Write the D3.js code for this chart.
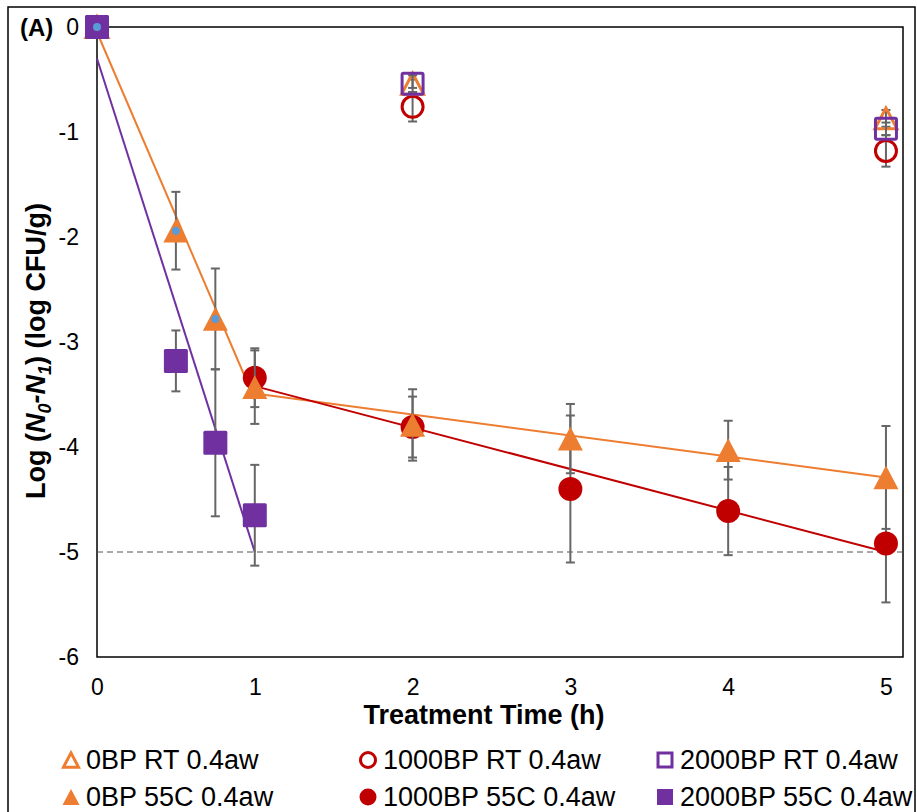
<!DOCTYPE html>
<html>
<head>
<meta charset="utf-8">
<script src="https://cdn.jsdelivr.net/npm/d3@7"></script>
<style>
  html, body { margin: 0; padding: 0; background: #fff; }
  svg { display: block; font-family: "Liberation Sans", Arial, sans-serif; }
</style>
</head>
<body>
<svg id="chart" width="917" height="812"></svg>
<script>
// Survival data: log reduction vs treatment time
const rtTimes = [0, 2, 5];
const bp0RT = [0, -0.54, -0.87];
const bp0RTErr = [0, 0.04, 0.08];
const bp1000RT = [0, -0.76, -1.18];
const bp1000RTErr = [0, 0.14, 0.15];
const bp2000RT = [0, -0.54, -0.97];
const bp2000RTErr = [0, 0.08, 0.06];

const bp0Times = [0, 0.5, 0.75, 1, 2, 3, 4, 5];
const bp0Hot = [0, -1.94, -2.78, -3.43, -3.79, -3.92, -4.03, -4.29];
const bp0HotErr = [0, 0.37, 0.48, 0.35, 0.34, 0.33, 0.28, 0.49];

const bp1000Times = [0, 1, 2, 3, 4, 5];
const bp1000Hot = [0, -3.34, -3.81, -4.40, -4.61, -4.92];
const bp1000HotErr = [0, 0.28, 0.29, 0.70, 0.42, 0.56];

const bp2000Times = [0, 0.5, 0.75, 1];
const bp2000Hot = [0, -3.18, -3.96, -4.65];
const bp2000HotErr = [0, 0.29, 0.70, 0.48];

// highlighted points on the 0BP 55C curve
const dotTimes = [0, 0.5, 0.75];
const dotValues = [0, -1.94, -2.78];

// fitted kinetic segments
const fit0BPFirstX = [0, 1];
const fit0BPFirstY = [-0.05, -3.55];
const fit0BPSecondX = [1, 5];
const fit0BPSecondY = [-3.49, -4.29];
const fit1000BPX = [1, 5];
const fit1000BPY = [-3.42, -5.0];
const fit2000BPX = [0, 1];
const fit2000BPY = [-0.30, -5.0];

const detectionLimit = -5;
const xTicks = [0, 1, 2, 3, 4, 5];
const yTicks = [0, -1, -2, -3, -4, -5, -6];

const legendLabels = [
  "0BP RT 0.4aw", "1000BP RT 0.4aw", "2000BP RT 0.4aw",
  "0BP 55C 0.4aw", "1000BP 55C 0.4aw", "2000BP 55C 0.4aw"
];

const ORANGE = "#ed7d31", RED = "#c00000", PURPLE = "#7030a0", BLUE = "#5b9bd5", GREY = "#666666";

const svg = d3.select("#chart");
const plot = { left: 97, top: 27, right: 903, bottom: 657 };

const x = d3.scaleLinear().domain([0, 5.108]).range([plot.left, plot.right]);
const y = d3.scaleLinear().domain([-6, 0]).range([plot.bottom, plot.top]);

// outer frame
svg.append("rect").attr("x", 8).attr("y", 7).attr("width", 907).attr("height", 820)
  .attr("fill", "none").attr("stroke", "#000").attr("stroke-width", 1.5);

// plot frame
svg.append("rect").attr("x", plot.left).attr("y", plot.top)
  .attr("width", plot.right - plot.left).attr("height", plot.bottom - plot.top)
  .attr("fill", "none").attr("stroke", "#000").attr("stroke-width", 1.5);

// axes
const yAxis = svg.append("g").attr("transform", `translate(${plot.left},0)`)
  .call(d3.axisLeft(y).tickValues(yTicks).tickSize(0).tickPadding(18).tickFormat(d => String(d)));
const xAxis = svg.append("g").attr("transform", `translate(0,${plot.bottom})`)
  .call(d3.axisBottom(x).tickValues(xTicks).tickSize(0).tickPadding(22).tickFormat(d => String(d)));
[yAxis, xAxis].forEach(a => {
  a.select(".domain").remove();
  a.selectAll("text").attr("font-size", 23).attr("fill", "#000")
    .attr("font-family", "'Liberation Sans', Arial, sans-serif");
});

// detection limit
svg.append("line").attr("x1", plot.left).attr("x2", plot.right)
  .attr("y1", y(detectionLimit)).attr("y2", y(detectionLimit))
  .attr("stroke", "#555").attr("stroke-width", 1).attr("stroke-dasharray", "6,4");

// fitted lines
const line = d3.line().x(d => x(d[0])).y(d => y(d[1]));
function fit(xs, ys, color) {
  svg.append("path").datum(xs.map((v, i) => [v, ys[i]]))
    .attr("d", line).attr("fill", "none").attr("stroke", color).attr("stroke-width", 2);
}
fit(fit0BPFirstX, fit0BPFirstY, ORANGE);
fit(fit0BPSecondX, fit0BPSecondY, ORANGE);
fit(fit1000BPX, fit1000BPY, RED);
fit(fit2000BPX, fit2000BPY, PURPLE);

// error bars
function errorBars(ts, vs, es) {
  const g = svg.append("g");
  ts.forEach((t, i) => {
    if (!es[i]) return;
    const cx = x(t), y1 = y(vs[i] + es[i]), y2 = y(vs[i] - es[i]);
    g.append("line").attr("x1", cx).attr("x2", cx).attr("y1", y1).attr("y2", y2)
      .attr("stroke", GREY).attr("stroke-width", 2);
    [y1, y2].forEach(yy => g.append("line").attr("x1", cx - 4.5).attr("x2", cx + 4.5)
      .attr("y1", yy).attr("y2", yy).attr("stroke", GREY).attr("stroke-width", 2));
  });
}

function markers(ts, vs, shape, color, filled, size) {
  const g = svg.append("g");
  ts.forEach((t, i) => {
    const cx = x(t), cy = y(vs[i]);
    let el;
    if (shape === "circle") {
      el = g.append("circle").attr("cx", cx).attr("cy", cy).attr("r", filled ? size / 2 : size / 2 - 1.5);
    } else if (shape === "square") {
      const s = filled ? size : size - 3;
      el = g.append("rect").attr("x", cx - s / 2).attr("y", cy - s / 2).attr("width", s).attr("height", s).attr("rx", 1.5);
    } else {
      const w = filled ? size : size - 3, h = w * 0.95;
      el = g.append("path").attr("d", `M${cx},${cy - h / 2}L${cx + w / 2},${cy + h / 2}L${cx - w / 2},${cy + h / 2}Z`);
    }
    if (filled) el.attr("fill", color);
    else el.attr("fill", "none").attr("stroke", color).attr("stroke-width", 3);
  });
}

errorBars(bp1000Times, bp1000Hot, bp1000HotErr);
markers(bp1000Times, bp1000Hot, "circle", RED, true, 24);
errorBars(bp0Times, bp0Hot, bp0HotErr);
markers(bp0Times, bp0Hot, "triangle", ORANGE, true, 25);
errorBars(rtTimes, bp1000RT, bp1000RTErr);
markers(rtTimes, bp1000RT, "circle", RED, false, 24);
errorBars(rtTimes, bp0RT, bp0RTErr);
markers(rtTimes, bp0RT, "triangle", ORANGE, false, 25);
errorBars(rtTimes, bp2000RT, bp2000RTErr);
markers(rtTimes, bp2000RT, "square", PURPLE, false, 24);
errorBars(bp2000Times, bp2000Hot, bp2000HotErr);
markers(bp2000Times, bp2000Hot, "square", PURPLE, true, 24);

// highlighted points
svg.append("g").selectAll("circle").data(dotTimes).join("circle")
  .attr("cx", d => x(d)).attr("cy", (d, i) => y(dotValues[i])).attr("r", 4).attr("fill", BLUE);

// panel label
svg.append("text").attr("x", 20).attr("y", 36).attr("font-size", 24).attr("font-weight", "bold").text("(A)");

// axis titles
svg.append("text").attr("x", 484).attr("y", 724).attr("text-anchor", "middle")
  .attr("font-size", 27).attr("font-weight", "bold").text("Treatment Time (h)");

const yt = svg.append("text").attr("transform", `translate(45,351) rotate(-90)`)
  .attr("text-anchor", "middle").attr("font-size", 27).attr("font-weight", "bold");
yt.append("tspan").text("Log (");
yt.append("tspan").attr("font-style", "italic").text("N");
yt.append("tspan").attr("font-style", "italic").attr("font-size", 18).attr("dy", 6).text("0");
yt.append("tspan").attr("dy", -6).attr("font-style", "italic").text("-N");
yt.append("tspan").attr("font-style", "italic").attr("font-size", 18).attr("dy", 6).text("1");
yt.append("tspan").attr("dy", -6).text(") (log CFU/g)");

// legend
const legendCols = [71, 368, 665];
const legendRows = [760, 797];
const legendShapes = [
  { shape: "triangle", color: ORANGE, filled: false },
  { shape: "circle", color: RED, filled: false },
  { shape: "square", color: PURPLE, filled: false },
  { shape: "triangle", color: ORANGE, filled: true },
  { shape: "circle", color: RED, filled: true },
  { shape: "square", color: PURPLE, filled: true }
];
legendLabels.forEach((lab, i) => {
  const cx = legendCols[i % 3], cy = legendRows[Math.floor(i / 3)];
  const s = legendShapes[i];
  const g = svg.append("g");
  let el;
  if (s.shape === "circle") {
    el = g.append("circle").attr("cx", cx).attr("cy", cy).attr("r", s.filled ? 8.5 : 7.5);
  } else if (s.shape === "square") {
    const w = s.filled ? 16 : 14;
    el = g.append("rect").attr("x", cx - w / 2).attr("y", cy - w / 2).attr("width", w).attr("height", w);
  } else {
    const w = s.filled ? 17 : 15, h = w * 0.95;
    el = g.append("path").attr("d", `M${cx},${cy - h / 2}L${cx + w / 2},${cy + h / 2}L${cx - w / 2},${cy + h / 2}Z`);
  }
  if (s.filled) el.attr("fill", s.color);
  else el.attr("fill", "none").attr("stroke", s.color).attr("stroke-width", 3);
  svg.append("text").attr("x", cx + 15).attr("y", cy + 9).attr("font-size", 27).text(lab);
});
</script>
</body>
</html>
